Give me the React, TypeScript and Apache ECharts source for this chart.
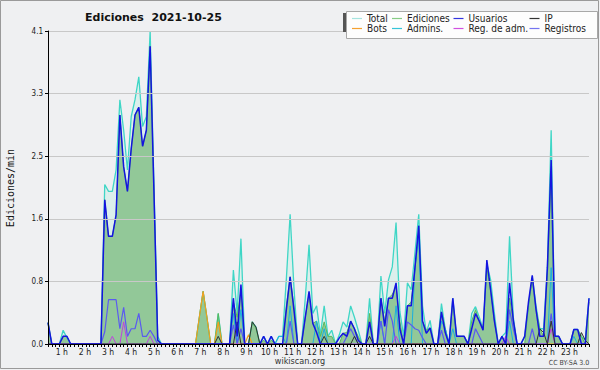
import React, { useEffect, useRef } from "react";
import * as echarts from "echarts";

// 10-minute steps, 00:00 .. 23:50
const times: string[] = Array.from({ length: 144 }, (_, i) =>
  `${String(Math.floor(i / 6)).padStart(2, "0")}:${String((i % 6) * 10).padStart(2, "0")}`
);
const hourTicks = [1, 2, 3, 4, 5, 6, 7, 8, 9, 10, 11, 12, 13, 14, 15, 16, 17, 18, 19, 20, 21, 22, 23];

const total = [
  0.28, 0, 0, 0, 0.18, 0.08, 0, 0, 0, 0, 0, 0,
  0, 0, 0, 2.09, 2.0, 2.0, 2.28, 3.2, 2.8, 2.28, 2.98, 3.2,
  3.5, 2.85, 2.98, 4.1, 2.1, 0.1, 0, 0, 0, 0, 0, 0,
  0, 0, 0, 0, 0.35, 0.69, 0.35, 0, 0, 0.4, 0, 0,
  0, 0.97, 0.4, 1.38, 0, 0, 0.29, 0.22, 0, 0.1, 0, 0.1,
  0, 0.1, 0.1, 0.85, 1.7, 0.75, 0, 0, 0.6, 1.3, 0.4, 0.5,
  0.12, 0.5, 0.1, 0.18, 0, 0.12, 0.29, 0.22, 0.5, 0.35, 0.18, 0,
  0, 0.6, 0, 0, 0.89, 0.4, 0.84, 1.01, 1.59, 0.43, 0.1, 0.8,
  0.71, 1.2, 1.7, 0.5, 0.15, 0.31, 0, 0, 0.53, 0.2, 0, 0.6,
  0.1, 0.1, 0.1, 0, 0.4, 0.49, 0.35, 0.2, 1.05, 0.84, 0.4, 0,
  0.1, 0.15, 1.41, 0.35, 0, 0, 0.1, 0.5, 0.88, 0.5, 0.2, 0.2,
  1.0, 2.8, 0.1, 0.1, 0, 0, 0, 0.19, 0.19, 0.1, 0.05, 0.6,
];
const ediciones = [
  0.28, 0, 0, 0, 0.1, 0.1, 0, 0, 0, 0, 0, 0,
  0, 0, 0, 1.89, 1.41, 1.41, 1.69, 3.0, 2.32, 2.0, 2.56, 3.0,
  3.1, 2.59, 2.8, 3.9, 2.0, 0.05, 0, 0, 0, 0, 0, 0,
  0, 0, 0, 0, 0.35, 0.69, 0.35, 0, 0, 0.4, 0, 0,
  0, 0.55, 0.35, 0.7, 0, 0, 0.29, 0.2, 0, 0.05, 0, 0.05,
  0, 0, 0, 0.5, 0.88, 0.5, 0, 0, 0.35, 0.65, 0.27, 0.3,
  0.1, 0.29, 0.1, 0.1, 0, 0, 0.14, 0.15, 0.3, 0.2, 0.1, 0,
  0, 0.4, 0, 0, 0.6, 0.3, 0.6, 0.65, 0.75, 0.3, 0, 0.5,
  0.55, 1.0, 1.5, 0.3, 0.18, 0.21, 0, 0, 0.42, 0.2, 0, 0.55,
  0.1, 0.1, 0.1, 0, 0.3, 0.45, 0.3, 0.2, 1.0, 0.7, 0.3, 0,
  0.1, 0, 0.6, 0.3, 0, 0, 0, 0.5, 0.85, 0.45, 0.2, 0.1,
  0.9, 2.2, 0.1, 0.1, 0, 0, 0, 0.19, 0.19, 0.1, 0, 0.55,
];
const usuarios = [
  0.28, 0, 0, 0, 0.1, 0.1, 0, 0, 0, 0, 0, 0,
  0, 0, 0, 1.89, 1.41, 1.41, 1.69, 3.0, 2.32, 2.0, 2.56, 3.0,
  3.1, 2.59, 2.8, 3.9, 2.0, 0.05, 0, 0, 0, 0, 0, 0,
  0, 0, 0, 0, 0, 0, 0, 0, 0, 0, 0, 0,
  0, 0.6, 0.1, 0.78, 0, 0, 0, 0, 0, 0.1, 0, 0.1,
  0, 0, 0, 0.45, 0.88, 0.45, 0, 0, 0.35, 0.69, 0.27, 0.15,
  0, 0, 0, 0, 0, 0.08, 0.14, 0.1, 0.3, 0.2, 0.05, 0,
  0, 0.29, 0, 0, 0.6, 0.23, 0.6, 0.6, 0.8, 0.2, 0, 0.5,
  0.5, 1.0, 1.55, 0.3, 0.14, 0.21, 0, 0, 0.42, 0.15, 0, 0.6,
  0.1, 0.1, 0.1, 0, 0.2, 0.4, 0.3, 0.18, 1.1, 0.71, 0.3, 0,
  0.1, 0, 0.8, 0.31, 0, 0, 0.1, 0.55, 0.9, 0.45, 0.1, 0.1,
  1.0, 2.41, 0.1, 0.1, 0, 0, 0, 0.19, 0.19, 0, 0, 0.6,
];
const ip = [
  0, 0, 0, 0, 0, 0, 0, 0, 0, 0, 0, 0,
  0, 0, 0, 0, 0, 0, 0, 0, 0, 0, 0, 0,
  0, 0, 0, 0, 0, 0, 0, 0, 0, 0, 0, 0,
  0, 0, 0, 0, 0, 0, 0, 0, 0, 0.1, 0, 0,
  0, 0, 0.29, 0, 0, 0, 0.29, 0.22, 0, 0, 0, 0,
  0, 0, 0, 0, 0, 0, 0, 0, 0, 0, 0, 0,
  0, 0.1, 0, 0, 0, 0, 0, 0, 0, 0.1, 0, 0,
  0, 0.1, 0, 0, 0, 0, 0, 0, 0, 0, 0, 0,
  0, 0, 0, 0, 0, 0, 0, 0, 0, 0, 0, 0,
  0, 0, 0, 0, 0, 0, 0, 0, 0, 0, 0, 0,
  0, 0, 0, 0, 0, 0, 0, 0, 0, 0, 0.2, 0.15,
  0, 0.3, 0, 0, 0, 0, 0, 0, 0, 0.15, 0.05, 0,
];
const bots = [
  0, 0, 0, 0, 0, 0, 0, 0, 0, 0, 0, 0,
  0, 0, 0, 0, 0, 0, 0, 0, 0, 0, 0, 0,
  0, 0, 0, 0, 0, 0, 0, 0, 0, 0, 0, 0,
  0, 0, 0, 0, 0.35, 0.69, 0.35, 0, 0, 0.29, 0, 0,
  0, 0, 0, 0, 0, 0.12, 0, 0, 0, 0, 0, 0,
  0, 0, 0, 0, 0, 0, 0, 0, 0, 0, 0, 0,
  0, 0, 0, 0, 0, 0, 0, 0, 0, 0, 0, 0,
  0, 0, 0, 0, 0, 0, 0, 0, 0, 0, 0, 0,
  0, 0, 0, 0, 0, 0, 0, 0, 0, 0, 0, 0,
  0, 0, 0, 0, 0, 0, 0, 0, 0, 0, 0, 0,
  0, 0, 0, 0, 0, 0, 0, 0, 0, 0, 0, 0,
  0, 0, 0, 0, 0, 0, 0, 0, 0, 0, 0, 0,
];
const admins = [
  0, 0, 0, 0, 0, 0, 0, 0, 0, 0, 0, 0,
  0, 0, 0, 0, 0, 0, 0, 0, 0, 0, 0, 0,
  0, 0, 0, 0, 0, 0, 0, 0, 0, 0, 0, 0,
  0, 0, 0, 0, 0, 0, 0, 0, 0, 0, 0, 0,
  0, 0.4, 0, 0.45, 0, 0, 0, 0, 0, 0, 0, 0,
  0, 0.1, 0.1, 0, 0.5, 0, 0, 0, 0, 0, 0, 0.3,
  0, 0.2, 0, 0, 0, 0, 0, 0, 0, 0, 0, 0,
  0, 0, 0, 0, 0.3, 0, 0, 0, 0.5, 0, 0, 0,
  0, 1.0, 1.4, 0, 0, 0, 0, 0, 0.3, 0.2, 0, 0.2,
  0, 0, 0, 0, 0, 0, 0, 0, 0, 0, 0, 0,
  0, 0, 0.3, 0, 0, 0, 0, 0, 0, 0, 0, 0,
  0, 1.0, 0, 0, 0, 0, 0, 0.1, 0, 0, 0, 0,
];
const regAdm = [
  0, 0, 0, 0, 0, 0, 0, 0, 0, 0, 0, 0,
  0, 0, 0, 0, 0, 0.1, 0, 0, 0.29, 0, 0, 0,
  0, 0, 0, 0.1, 0, 0, 0, 0, 0, 0, 0, 0,
  0, 0, 0, 0, 0, 0, 0, 0, 0, 0, 0, 0,
  0, 0, 0, 0, 0, 0, 0, 0, 0, 0, 0, 0,
  0, 0, 0, 0, 0, 0, 0, 0, 0, 0, 0, 0,
  0, 0, 0, 0, 0, 0, 0, 0, 0, 0, 0, 0,
  0, 0, 0, 0, 0, 0, 0, 0, 0.1, 0, 0, 0,
  0, 0, 0, 0, 0, 0, 0, 0, 0, 0, 0, 0,
  0, 0, 0, 0, 0, 0, 0, 0, 0, 0, 0, 0,
  0, 0.1, 0, 0, 0, 0, 0, 0, 0, 0, 0, 0,
  0, 0.2, 0, 0, 0, 0, 0, 0, 0, 0, 0, 0,
];
const registros = [
  0, 0, 0, 0, 0, 0, 0, 0, 0, 0, 0, 0,
  0, 0, 0, 0.16, 0.58, 0.58, 0.58, 0.2, 0.48, 0.1, 0.2, 0.2,
  0.4, 0.1, 0.1, 0.18, 0.1, 0, 0, 0, 0, 0, 0, 0,
  0, 0, 0, 0, 0, 0, 0, 0, 0, 0, 0, 0,
  0, 0.25, 0, 0.2, 0, 0, 0, 0, 0, 0, 0, 0,
  0, 0, 0, 0, 0.3, 0, 0, 0, 0, 0, 0, 0,
  0, 0, 0, 0, 0, 0, 0, 0.1, 0.2, 0.1, 0, 0,
  0, 0, 0, 0, 0.3, 0, 0.45, 0.3, 0, 0, 0, 0.29,
  0.25, 0.2, 0.18, 0.08, 0, 0, 0, 0, 0.18, 0, 0, 0,
  0, 0, 0, 0, 0, 0.2, 0.1, 0, 0, 0, 0, 0,
  0, 0, 0.45, 0.2, 0, 0, 0, 0, 0.2, 0, 0, 0,
  0, 0.4, 0, 0, 0, 0, 0, 0, 0, 0, 0, 0,
];

const legendNames = ["Total", "Ediciones", "Usuarios", "IP", "Bots", "Admins.", "Reg. de adm.", "Registros"];
const legendColors = ["#a6e4e0", "#86cc86", "#3434e0", "#333333", "#f5a030", "#35c4d8", "#d050e0", "#7474f0"];

const FONT = "'DejaVu Sans Condensed', 'DejaVu Sans', sans-serif";

export default function App() {
  const ref = useRef<HTMLDivElement>(null);
  useEffect(() => {
    if (!ref.current) return;
    const chart = echarts.init(ref.current, undefined, { renderer: "svg" });

    const lineSeries = (name: string, data: number[], color: string, width: number, area?: string) => ({
      name,
      type: "line",
      data,
      xAxisIndex: 0,
      yAxisIndex: 0,
      showSymbol: false,
      symbol: "none",
      color,
      lineStyle: { color, width },
      areaStyle: area ? { color: area, opacity: 1 } : undefined,
      z: 2,
    });

    const colX = [352, 392, 453.5, 529.5];
    const rowY = [18.5, 28.5];
    const legendGraphics: any[] = [];
    legendNames.forEach((n, k) => {
      const cx = colX[k % 4];
      const cy = rowY[Math.floor(k / 4)];
      legendGraphics.push({
        type: "line",
        shape: { x1: cx, y1: cy, x2: cx + 10, y2: cy },
        style: { stroke: legendColors[k], lineWidth: 1.2 },
        z: 101,
      });
      legendGraphics.push({
        type: "text",
        x: cx + 15,
        y: cy,
        style: { text: n, fill: "#222", font: `10px ${FONT}`, verticalAlign: "middle", align: "left" },
        z: 101,
      });
    });

    chart.setOption({
      animation: false,
      backgroundColor: "#eff0f2",
      grid: [
        { left: 48, right: 11, top: 31, bottom: 26 },
        { left: 48, right: 11, top: 31, bottom: 26 },
      ],
      xAxis: [
        {
          type: "category",
          gridIndex: 0,
          data: times,
          boundaryGap: false,
          z: 10,
          axisLine: { show: true, lineStyle: { color: "#000", width: 1 } },
          axisTick: { show: true, interval: 0, length: 3, lineStyle: { color: "#000" } },
          axisLabel: { show: false },
          splitLine: { show: false },
        },
        {
          type: "value",
          gridIndex: 1,
          min: 0.4,
          max: 23.85,
          axisLine: { show: false },
          axisTick: { show: false },
          splitLine: { show: false },
          axisLabel: {
            customValues: hourTicks,
            formatter: (v: number) => `${v} h`,
            fontSize: 8.5,
            fontFamily: FONT,
            color: "#222",
            margin: 3,
          },
        },
      ],
      yAxis: [
        {
          type: "value",
          gridIndex: 0,
          min: 0,
          max: 4.1,
          interval: 0.82,
          z: 10,
          axisLine: { show: true, lineStyle: { color: "#000", width: 1 } },
          axisTick: { show: true, length: 3, lineStyle: { color: "#000" } },
          axisLabel: {
            formatter: (v: number) => v.toFixed(1),
            fontSize: 8,
            fontFamily: FONT,
            color: "#222",
            margin: 5,
          },
          splitLine: { show: true, lineStyle: { color: "#c8c8c8", width: 1 } },
        },
        { type: "value", gridIndex: 1, show: false, min: 0, max: 1 },
      ],
      series: [
        lineSeries("Total", total, "#3fd6c6", 1.3, "#dcefec"),
        lineSeries("Ediciones", ediciones, "#5ab85a", 1, "#92c898"),
        lineSeries("Bots", bots, "#f0a020", 1.2),
        lineSeries("Admins.", admins, "#1aaee0", 1),
        lineSeries("Registros", registros, "#5a5af0", 1.2),
        lineSeries("Reg. de adm.", regAdm, "#c040e0", 1),
        lineSeries("IP", ip, "#303030", 1),
        lineSeries("Usuarios", usuarios, "#1414e0", 1.5),
      ],
      graphic: [
        {
          type: "rect",
          shape: { x: 0.5, y: 0.5, width: 598, height: 368 },
          style: { fill: "none", stroke: "#9a9a9a", lineWidth: 1 },
          z: 100,
          silent: true,
        },
        {
          type: "text",
          x: 85,
          y: 17,
          style: {
            text: "Ediciones  2021-10-25",
            fill: "#111",
            font: "bold 11px 'DejaVu Sans', sans-serif",
            verticalAlign: "middle",
            align: "left",
          },
          z: 100,
        },
        {
          type: "text",
          x: 10,
          y: 188,
          rotation: Math.PI / 2,
          style: {
            text: "Ediciones/min",
            fill: "#111",
            font: "10px 'DejaVu Sans Mono', monospace",
            verticalAlign: "middle",
            align: "center",
          },
          z: 100,
        },
        {
          type: "rect",
          shape: { x: 343, y: 13, width: 4, height: 19 },
          style: { fill: "#555" },
          z: 100,
        },
        {
          type: "rect",
          shape: { x: 346.5, y: 11.5, width: 251, height: 27 },
          style: { fill: "#fdfdfd", stroke: "#a8a8a8", lineWidth: 1 },
          z: 100,
        },
        ...legendGraphics,
        {
          type: "text",
          x: 300,
          y: 361,
          style: { text: "wikiscan.org", fill: "#333", font: `9px ${FONT}`, align: "center", verticalAlign: "middle" },
          z: 100,
        },
        {
          type: "text",
          x: 569,
          y: 362.5,
          style: { text: "CC BY-SA 3.0", fill: "#444", font: `7px ${FONT}`, align: "center", verticalAlign: "middle" },
          z: 100,
        },
      ],
    });
    return () => chart.dispose();
  }, []);
  return <div ref={ref} style={{ width: 600, height: 370, position: "absolute", left: 0, top: 0 }} />;
}
